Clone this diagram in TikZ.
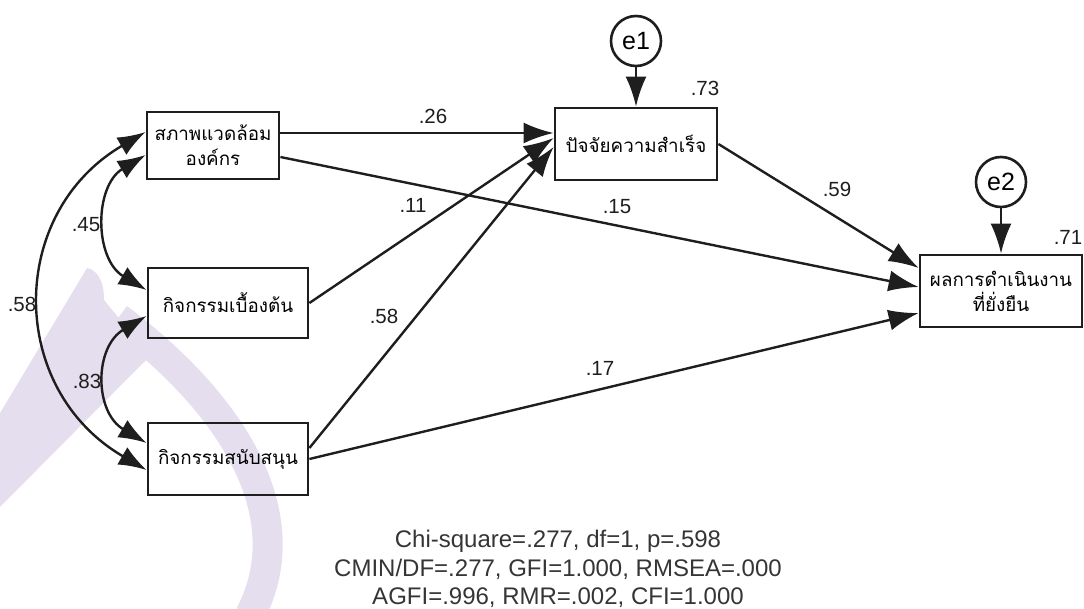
\documentclass[tikz,border=0pt]{standalone}
\usepackage{fontspec}
\setmainfont{Liberation Sans}
\newfontfamily\thaifont[Script=Thai]{Loma}
\usetikzlibrary{arrows.meta}
\definecolor{wmcol}{RGB}{228,222,238}
\definecolor{ink}{RGB}{30,30,30}
\begin{document}
\begin{tikzpicture}[x=1pt,y=-1pt]
\tikzset{
 box/.style={draw=ink, line width=2.8pt, inner sep=0pt, align=center,
   font=\thaifont\fontsize{18.8}{25}\selectfont},
 pathar/.style={draw=ink, line width=2.4pt, -{Latex[length=30pt,width=21pt]}},
 cov/.style={draw=ink, line width=2.4pt, {Latex[length=28pt,width=20pt]}-{Latex[length=28pt,width=20pt]}},
 coef/.style={font=\fontsize{20.5}{22}\selectfont, text=ink, inner sep=0pt},
 err/.style={draw=ink, circle, line width=2.6pt, minimum size=50pt, inner sep=0pt,
   font=\fontsize{25}{27}\selectfont},
 wm/.style={fill=wmcol, draw=none}
}
\path[use as bounding box] (0,0) rectangle (1084,609);
% watermark
\fill[wm] (87,268) .. controls (97,270) and (104,280) .. (104,300) -- (150,356) -- (0,507) -- (0,413) -- cycle;
\draw[draw=wmcol, line width=30pt] (118,318) .. controls (240,410) and (300,520) .. (250,615);
% boxes
\node[box, minimum width=132pt, minimum height=67pt] (b1) at (213,145.5) {สภาพแวดล้อม\\องค์กร};
\node[box, minimum width=160pt, minimum height=70pt] (b2) at (228,303) {กิจกรรมเบื้องต้น};
\node[box, minimum width=160pt, minimum height=72pt] (b3) at (228,459) {กิจกรรมสนับสนุน};
\node[box, minimum width=162pt, minimum height=72pt] (b4) at (636,144) {ปัจจัยความสำเร็จ};
\node[box, minimum width=162pt, minimum height=72pt] (b5) at (1001,291) {ผลการดำเนินงาน\\ที่ยั่งยืน};
\node[err] (e1) at (636,41) {e1};
\node[err] (e2) at (1001,182) {e2};
% paths
\draw[pathar] ([yshift=12.5pt]b1.east) -- ([yshift=11pt]b4.west);
\draw[pathar] ([yshift=-11.5pt]b1.east) -- ([yshift=4pt]b5.west);
\draw[pathar] (b2.east) -- ([yshift=6pt]b4.west);
\draw[pathar] ([yshift=11pt]b3.east) -- ([yshift=-3pt]b4.west);
\draw[pathar] (b3.east) -- ([yshift=-22pt]b5.west);
\draw[pathar] (b4.east) -- ([yshift=23pt]b5.west);
\draw[pathar] (e1.south) -- (b4.north);
\draw[pathar] (e2.south) -- (b5.north);
% covariances
\draw[cov] ([yshift=-9.5pt]b1.west) .. controls (94,186) and (94,259) .. ([yshift=13pt]b2.west);
\draw[cov] ([yshift=-13pt]b2.west) .. controls (94,347) and (94,412) .. ([yshift=16pt]b3.west);
\draw[cov] ([yshift=13.5pt]b1.west) .. controls (7,213) and (7,389) .. ([yshift=-11pt]b3.west);
% coefficients
\node[coef] (l26) at (433,116) {.26};
\node[coef] (l11) at (413,205) {.11};
\node[coef] (l15) at (617,207) {.15};
\node[coef] (l58b) at (384,316) {.58};
\node[coef] (l17) at (600,368) {.17};
\node[coef] (l59) at (837,189) {.59};
\node[coef] (l73) at (705,88) {.73};
\node[coef] (l71) at (1068,237) {.71};
\node[coef] (l45) at (86,225) {.45};
\node[coef] (l83) at (87,381) {.83};
\node[coef] (l58a) at (22,304) {.58};
% fit
\node[align=center, text=ink!90, inner sep=0pt, font=\fontsize{24}{28.5}\selectfont] (fit) at (558,569)
 {Chi-square=.277, df=1, p=.598\\CMIN/DF=.277, GFI=1.000, RMSEA=.000\\AGFI=.996, RMR=.002, CFI=1.000};
\end{tikzpicture}
\end{document}
